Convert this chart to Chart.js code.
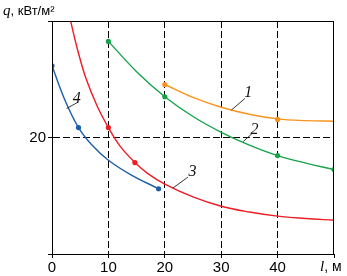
<!DOCTYPE html>
<html>
<head>
<meta charset="utf-8">
<script src="https://cdn.jsdelivr.net/npm/chart.js@4.4.0/dist/chart.umd.min.js"></script>
<style>
html, body { margin: 0; padding: 0; background: #fff; }
#wrap { width: 347px; height: 276px; }
</style>
</head>
<body>
<div id="wrap"><canvas id="grafico"></canvas></div>
<script>
// valores: l (m) y q (kW/m2)
const xTicks = [0, 10, 20, 30, 40, 50];
const xTickLabels = ['0', '10', '20', '30', '40', ''];
const yTickLabels = { 20: '20' };

// curva 1 (naranja)
const linea1X = [20, 25, 30, 35, 40, 45, 50];
const linea1Y = [29.1, 26.9, 25.2, 24.0, 23.2, 22.9, 22.8];
const puntos1X = [20, 40];
const puntos1Y = [29.1, 23.1];

// curva 2 (verde)
const linea2X = [10, 15, 20, 25, 30, 35, 40, 45, 50];
const linea2Y = [36.5, 31.3, 27.0, 23.6, 20.9, 18.7, 16.9, 15.6, 14.5];
const puntos2X = [10, 20, 40, 50];
const puntos2Y = [36.5, 27.0, 16.9, 14.5];

// curva 3 (roja)
const linea3X = [3.3, 4.5, 6, 8, 10, 12, 14.7, 17, 20, 25, 30, 35, 40, 45, 50];
const linea3Y = [40, 35.2, 30.2, 25.4, 21.7, 18.6, 15.7, 13.8, 12.0, 9.8, 8.2, 7.2, 6.5, 6.1, 5.8];
const puntos3X = [10, 14.7];
const puntos3Y = [21.7, 15.7];

// curva 4 (azul)
const linea4X = [0, 2.3, 4.7, 7, 10, 14, 18.9];
const linea4Y = [32.3, 26.4, 21.7, 18.8, 16.1, 13.6, 11.2];
const puntos4X = [0, 4.7, 18.9];
const puntos4Y = [32.3, 21.7, 11.2];

// rótulos de las curvas: texto, posición y línea guía (en unidades de datos)
const rotulos = ['1', '2', '3', '4'];
const rotuloX = [34.8, 35.9, 24.9, 4.4];
const rotuloY = [27.6, 21.3, 14.1, 26.7];
const guiaDesdeX = [31.8, 33.9, 21.4, 2.6];
const guiaDesdeY = [24.7, 19.3, 11.3, 25.0];
const guiaHastaX = [34.2, 35.5, 24.1, 4.7];
const guiaHastaY = [26.7, 20.7, 13.2, 26.1];

const colores = ['#f7941d', '#17a34a', '#ee1c25', '#1b5eab'];

function pares(xs, ys) {
  return xs.map((x, i) => ({ x: x, y: ys[i] }));
}

const fuenteNarrow = '"Liberation Sans Narrow", "Arial Narrow", "Liberation Sans", sans-serif';

const lineas = [[linea1X, linea1Y], [linea2X, linea2Y], [linea3X, linea3Y], [linea4X, linea4Y]];
const puntos = [[puntos1X, puntos1Y], [puntos2X, puntos2Y], [puntos3X, puntos3Y], [puntos4X, puntos4Y]];

const datasets = [];
lineas.forEach((l, i) => {
  datasets.push({
    data: pares(l[0], l[1]),
    showLine: true,
    borderColor: colores[i],
    borderWidth: 1.4,
    pointRadius: 0,
    tension: 0.4,
    fill: false
  });
});
puntos.forEach((p, i) => {
  datasets.push({
    data: pares(p[0], p[1]),
    showLine: false,
    pointRadius: 2.6,
    pointBackgroundColor: colores[i],
    pointBorderColor: colores[i],
    pointBorderWidth: 0
  });
});

const textos = {
  id: 'textos',
  afterDraw(chart) {
    const { ctx, chartArea, scales } = chart;
    const sx = scales.x, sy = scales.y;
    ctx.save();
    // marco
    ctx.strokeStyle = '#000';
    ctx.lineWidth = 1;
    ctx.strokeRect(chartArea.left + 0.5, chartArea.top + 0.5, chartArea.right - chartArea.left - 1, chartArea.bottom - chartArea.top);

    // rótulos de curvas
    rotulos.forEach((t, i) => {
      ctx.beginPath();
      ctx.moveTo(sx.getPixelForValue(guiaDesdeX[i]), sy.getPixelForValue(guiaDesdeY[i]));
      ctx.lineTo(sx.getPixelForValue(guiaHastaX[i]), sy.getPixelForValue(guiaHastaY[i]));
      ctx.strokeStyle = '#222';
      ctx.lineWidth = 0.9;
      ctx.stroke();
      ctx.fillStyle = '#111';
      ctx.font = 'italic 16px "Liberation Serif", serif';
      ctx.textAlign = 'center';
      ctx.textBaseline = 'middle';
      ctx.fillText(t, sx.getPixelForValue(rotuloX[i]), sy.getPixelForValue(rotuloY[i]));
    });

    // título eje y
    ctx.textAlign = 'left';
    ctx.textBaseline = 'alphabetic';
    ctx.fillStyle = '#000';
    ctx.font = 'italic 15px "Liberation Serif", serif';
    ctx.fillText('q', 3, 15);
    let w = ctx.measureText('q').width;
    ctx.font = '13px ' + fuenteNarrow;
    ctx.fillText(', кВт/м²', 3 + w, 15);

    // título eje x
    ctx.font = 'italic 15px "Liberation Serif", serif';
    ctx.fillText('l', 320, 271);
    w = ctx.measureText('l').width;
    ctx.font = '14px ' + fuenteNarrow;
    ctx.fillText(', м', 320 + w, 271);
    ctx.restore();
  }
};

new Chart(document.getElementById('grafico'), {
  type: 'scatter',
  data: { datasets: datasets },
  options: {
    responsive: true,
    maintainAspectRatio: false,
    animation: false,
    layout: { padding: { top: 21, right: 13, left: 0, bottom: 0 } },
    plugins: { legend: { display: false }, tooltip: { enabled: false } },
    scales: {
      x: {
        type: 'linear',
        min: 0,
        max: 50,
        afterBuildTicks: (s) => { s.ticks = xTicks.map(v => ({ value: v })); },
        afterFit: (s) => { s.height = 22; },
        ticks: {
          callback: (v) => xTickLabels[xTicks.indexOf(v)],
          color: '#000',
          font: { family: fuenteNarrow, size: 15 },
          padding: 1,
          maxRotation: 0,
          autoSkip: false
        },
        grid: {
          color: (c) => (c.tick && c.tick.value > 0 && c.tick.value < 50) ? '#000' : 'rgba(0,0,0,0)',
          tickColor: '#000',
          tickLength: 4,
          tickBorderDash: [],
          lineWidth: 1
        },
        border: { color: '#000', width: 1, dash: [7, 3] }
      },
      y: {
        type: 'linear',
        min: 0,
        max: 40,
        afterFit: (s) => { s.width = 52; },
        ticks: {
          stepSize: 20,
          callback: (v) => yTickLabels[v] || '',
          color: '#000',
          font: { family: fuenteNarrow, size: 15 },
          padding: 2
        },
        grid: {
          color: (c) => (c.tick && c.tick.value === 20) ? '#000' : 'rgba(0,0,0,0)',
          tickColor: '#000',
          tickLength: 4,
          tickBorderDash: [],
          lineWidth: 1
        },
        border: { color: '#000', width: 1, dash: [7, 3] }
      }
    }
  },
  plugins: [textos]
});
</script>
</body>
</html>
